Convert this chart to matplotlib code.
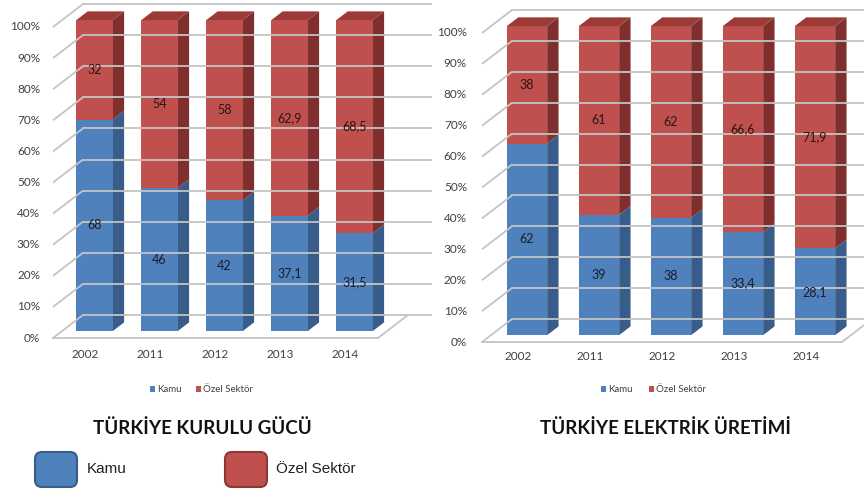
import matplotlib
matplotlib.use("Agg")
import matplotlib.pyplot as plt
from matplotlib.patches import Polygon, FancyBboxPatch, Rectangle

years = ["2002", "2011", "2012", "2013", "2014"]
kurulu_kamu = [68, 46, 42, 37.1, 31.5]
kurulu_ozel = [32, 54, 58, 62.9, 68.5]
uretim_kamu = [62, 39, 38, 33.4, 28.1]
uretim_ozel = [38, 61, 62, 66.6, 71.9]
pct_ticks = list(range(0, 101, 10))

titles = ["TÜRKİYE KURULU GÜCÜ", "TÜRKİYE ELEKTRİK ÜRETİMİ"]
series_names = ["Kamu", "Özel Sektör"]

W, H = 864, 491
BLUE, BLUE_SIDE = "#4f81bd", "#385d8a"
RED, RED_SIDE, RED_TOP = "#c0504d", "#7f2f2d", "#9b3a37"
GRID = "#c4c4c4"
TEXT = "#404040"
FONT = ["Lato", "DejaVu Sans"]


def fmt(v):
    # Turkish decimal comma
    return ("%g" % v).replace(".", ",")


def draw_chart(fig, ax_px, x0, cat_w, y0, pct_px, kamu, ozel, ytick_x, xlab_y):
    # axes spans pixel columns ax_px and pixel rows 0..380
    left, right = ax_px
    top_py, bot_py = 0, 380
    ax = fig.add_axes([left / W, 1 - bot_py / H, (right - left) / W, (bot_py - top_py) / H])
    to_u = lambda px: (px - x0) / cat_w - 0.5
    to_v = lambda py: (y0 - py) / pct_px
    ax.set_xlim(to_u(left), to_u(right))
    ax.set_ylim(to_v(bot_py), to_v(top_py))
    ax.axis("off")

    DU, DV = 30 / cat_w, 23 / pct_px
    n = len(years)
    lw = 1.3
    # walls and floor
    for v in pct_ticks:
        ax.plot([-0.5, -0.5 + DU], [v, v + DV], color=GRID, lw=lw, solid_capstyle="butt")
        ax.plot([-0.5 + DU, n - 0.5 + DU + 0.6], [v + DV, v + DV], color=GRID, lw=lw)
    ax.plot([-0.5, n - 0.5], [0, 0], color=GRID, lw=lw)
    ax.plot([n - 0.5, n - 0.5 + DU], [0, DV], color=GRID, lw=lw)

    zf, zd, bw = 0.3, 0.38, 0.56
    fu, fv = zf * DU, zf * DV
    du, dv = zd * DU, zd * DV
    for i in range(n):
        xl = i - bw / 2 + fu
        xr = i + bw / 2 + fu
        segs = [(0, kamu[i], BLUE, BLUE_SIDE), (kamu[i], 100, RED, RED_SIDE)]
        for (a, b, c, cs) in segs:
            ax.add_patch(Polygon([(xr, a + fv), (xr + du, a + fv + dv),
                                  (xr + du, b + fv + dv), (xr, b + fv)],
                                 closed=True, fc=cs, ec="none"))
            ax.add_patch(Polygon([(xl, a + fv), (xr, a + fv), (xr, b + fv), (xl, b + fv)],
                                 closed=True, fc=c, ec="none"))
        ax.add_patch(Polygon([(xl, 100 + fv), (xr, 100 + fv), (xr + du, 100 + fv + dv),
                              (xl + du, 100 + fv + dv)], closed=True, fc=RED_TOP, ec="none"))
        ax.text(i + fu, kamu[i] / 2 + fv, fmt(kamu[i]), ha="center", va="center",
                fontsize=9, color="#1c1c28", family=FONT)
        ax.text(i + fu, kamu[i] + ozel[i] / 2 + fv, fmt(ozel[i]), ha="center", va="center",
                fontsize=9, color="#2a1414", family=FONT)
        ax.text(i, to_v(xlab_y), years[i], ha="center", va="center",
                fontsize=8.5, color=TEXT, family=FONT)

    for v in pct_ticks:
        ax.text(to_u(ytick_x), v, "%d%%" % v, ha="right", va="center",
                fontsize=8.5, color=TEXT, family=FONT)
    return ax


fig = plt.figure(figsize=(W / 100, H / 100), dpi=100)
fig.patch.set_facecolor("white")

draw_chart(fig, (0, 432), 53, 65, 338, 3.11, kurulu_kamu, kurulu_ozel, 40, 355)
draw_chart(fig, (432, 864), 482, 72, 342, 3.09, uretim_kamu, uretim_ozel, 467, 357)

# overlay axes in pixel coordinates for legends and titles
ov = fig.add_axes([0, 0, 1, 1])
ov.set_xlim(0, W)
ov.set_ylim(H, 0)
ov.axis("off")

for (sx, tx, sx2, tx2) in [(150, 157, 196, 203), (601, 608, 649, 656)]:
    ov.add_patch(Rectangle((sx, 386), 5, 6, fc=BLUE, ec="none"))
    ov.text(tx, 389, series_names[0], ha="left", va="center", fontsize=7, color=TEXT, family=FONT)
    ov.add_patch(Rectangle((sx2, 386), 5, 6, fc=RED, ec="none"))
    ov.text(tx2, 389, series_names[1], ha="left", va="center", fontsize=7, color=TEXT, family=FONT)

ov.text(202, 428, titles[0], ha="center", va="center", fontsize=13.5, color="#111111",
        family=FONT, fontweight="bold")
ov.text(666, 428, titles[1], ha="center", va="center", fontsize=13.5, color="#111111",
        family=FONT, fontweight="bold")

for (bx, c, ce, tx, name) in [(35, BLUE, BLUE_SIDE, 87, series_names[0]),
                              (225, RED, "#8c3836", 276, series_names[1])]:
    ov.add_patch(FancyBboxPatch((bx, 452), 42, 35, boxstyle="round,pad=0,rounding_size=7",
                                fc=c, ec=ce, lw=1.5))
    ov.text(tx, 469, name, ha="left", va="center", fontsize=11, color="#222222",
            family=["Liberation Sans", "DejaVu Sans"])

fig.savefig("out.png", dpi=100)
